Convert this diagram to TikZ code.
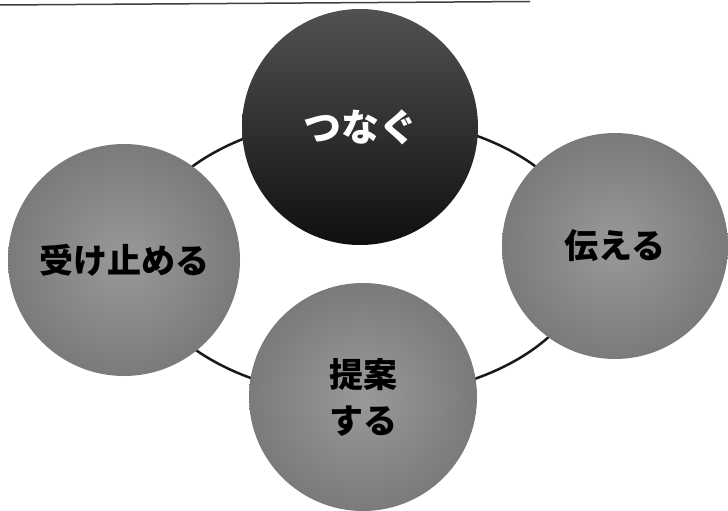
\documentclass[tikz,border=0pt]{standalone}
\usepackage{fontspec}
\setmainfont{Noto Sans CJK JP}
\begin{document}
\begin{tikzpicture}[x=1pt,y=-1pt,
  graycirc/.style={circle,draw=none,inner sep=0pt,text=black,
    inner color=black!40,outer color=black!52,font=\fontsize{34}{46}\selectfont\bfseries,align=center},
  darkcirc/.style={circle,draw=none,inner sep=0pt,text=white,
    top color=black!68,bottom color=black!94,font=\fontsize{38}{44}\selectfont\bfseries},
  ringline/.style={line width=2.5pt,black!90},
  scanline/.style={line width=1.5pt,black!75}]
\useasboundingbox (0,0) rectangle (728,511);
\fill[white] (0,0) rectangle (728,511);
\coordinate (tl) at (0,5);
\coordinate (tr) at (530,1.5);
\draw[scanline] (tl) -- (tr);
\coordinate (ring) at (364,257);
\draw[ringline] (ring) ellipse[x radius=225,y radius=140];
\node[darkcirc,minimum size=236pt] (tsunagu) at (360,127) {つなぐ};
\node[graycirc,minimum size=232pt] (uketomeru) at (124,260) {受け止める};
\node[graycirc,minimum size=226pt] (tsutaeru) at (615,246) {\raisebox{3pt}{伝える}};
\node[graycirc,minimum size=228pt] (teian) at (363,397) {提案\\する};
\end{tikzpicture}
\end{document}
